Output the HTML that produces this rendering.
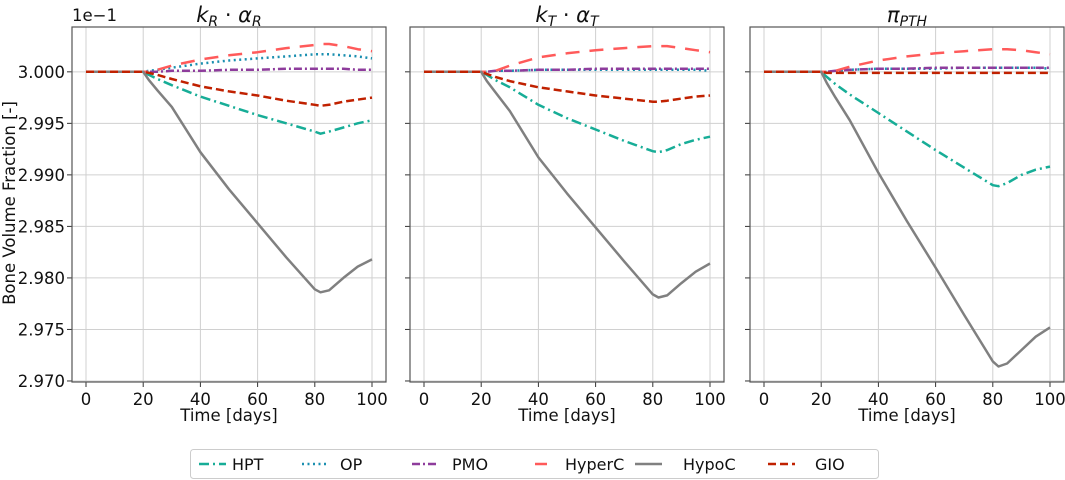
<!DOCTYPE html>
<html><head><meta charset="utf-8">
<style>
html,body{margin:0;padding:0;background:#fff;}
svg{display:block;font-family:"DejaVu Sans","Liberation Sans",sans-serif;}
</style></head>
<body>
<svg id="chart" width="1065" height="480" viewBox="0 0 1065 480" xmlns="http://www.w3.org/2000/svg"></svg>
<script>
const days = [0,20,22,25,30,40,50,60,70,80,82,85,90,95,100];
const yTicks = [3.000,2.995,2.990,2.985,2.980,2.975,2.970];
const xTicks = [0,20,40,60,80,100];
const seriesNames = ["HPT","OP","PMO","HyperC","HypoC","GIO"];
// Panel 1
const p1HPT   = [3,3,2.9997,2.9993,2.9987,2.9976,2.9967,2.9958,2.9950,2.9942,2.9940,2.9942,2.9946,2.9950,2.9953];
const p1OP    = [3,3,3.0001,3.0002,3.0004,3.0008,3.0011,3.0013,3.0015,3.0017,3.0017,3.0017,3.0016,3.0015,3.0013];
const p1PMO   = [3,3,3.0000,3.0000,3.0001,3.0001,3.0002,3.0002,3.0003,3.0003,3.0003,3.0003,3.0003,3.0002,3.0002];
const p1HyperC= [3,3,3.0000,3.0002,3.0006,3.0012,3.0016,3.0019,3.0023,3.0026,3.0027,3.0027,3.0025,3.0022,3.0020];
const p1HypoC = [3,3,2.9992,2.9982,2.9966,2.9922,2.9886,2.9853,2.9820,2.9789,2.9786,2.9788,2.9800,2.9811,2.9818];
const p1GIO   = [3,3,2.9999,2.9997,2.9993,2.9986,2.9981,2.9977,2.9972,2.9968,2.9967,2.9968,2.9971,2.9973,2.9975];
// Panel 2
const p2HPT   = [3,3,2.9997,2.9992,2.9985,2.9968,2.9955,2.9944,2.9933,2.9923,2.9922,2.9924,2.9930,2.9934,2.9937];
const p2OP    = [3,3,3.0000,3.0001,3.0001,3.0002,3.0002,3.0002,3.0002,3.0002,3.0002,3.0002,3.0002,3.0002,3.0001];
const p2PMO   = [3,3,3.0000,3.0001,3.0001,3.0002,3.0002,3.0003,3.0003,3.0003,3.0003,3.0003,3.0003,3.0003,3.0003];
const p2HyperC= [3,3,3.0000,3.0001,3.0006,3.0014,3.0018,3.0021,3.0023,3.0025,3.0025,3.0025,3.0023,3.0021,3.0019];
const p2HypoC = [3,3,2.9991,2.9980,2.9962,2.9917,2.9882,2.9849,2.9816,2.9784,2.9781,2.9783,2.9795,2.9806,2.9814];
const p2GIO   = [3,3,2.9998,2.9995,2.9991,2.9985,2.9981,2.9977,2.9974,2.9971,2.9971,2.9972,2.9974,2.9976,2.9977];
// Panel 3
const p3HPT   = [3,3,2.9995,2.9988,2.9978,2.9960,2.9942,2.9924,2.9907,2.9890,2.9889,2.9892,2.9900,2.9905,2.9908];
const p3OP    = [3,3,3.0000,3.0001,3.0002,3.0003,3.0003,3.0003,3.0004,3.0004,3.0004,3.0004,3.0004,3.0004,3.0003];
const p3PMO   = [3,3,3.0000,3.0001,3.0002,3.0003,3.0003,3.0004,3.0004,3.0004,3.0004,3.0004,3.0004,3.0004,3.0004];
const p3HyperC= [3,3,3.0000,3.0001,3.0005,3.0011,3.0015,3.0018,3.0020,3.0022,3.0022,3.0022,3.0021,3.0019,3.0017];
const p3HypoC = [3,3,2.9989,2.9975,2.9953,2.9902,2.9855,2.9810,2.9764,2.9719,2.9714,2.9717,2.9730,2.9743,2.9752];
const p3GIO   = [3,3,2.9999,2.9999,2.9999,2.9999,2.9999,2.9999,2.9999,2.9999,2.9999,2.9999,2.9999,2.9999,2.9999];

const panels = [
  [p1HPT,p1OP,p1PMO,p1HyperC,p1HypoC,p1GIO],
  [p2HPT,p2OP,p2PMO,p2HyperC,p2HypoC,p2GIO],
  [p3HPT,p3OP,p3PMO,p3HyperC,p3HypoC,p3GIO]
];
const styles = [
  {c:"#17ad97",d:"10 4 2 4",w:2.5},
  {c:"#1a8fb0",d:"2 3.5",w:2.5},
  {c:"#8e3c9c",d:"8 3 2 3",w:2.5},
  {c:"#ff5a5a",d:"14 10",w:2.5},
  {c:"#808080",d:"",w:2.5},
  {c:"#c02100",d:"8 4",w:2.5}
];
const NS="http://www.w3.org/2000/svg";
const svg=document.getElementById('chart');
function mk(tag,attrs,parent){const e=document.createElementNS(NS,tag);for(const k in attrs)e.setAttribute(k,attrs[k]);(parent||svg).appendChild(e);return e;}

const panelLeft=[72,410,750], panelW=314, plotTop=27, plotBottom=382;
const yTop=3.00435, yBot=2.9699;
function yScale(v){return plotTop+(yTop-v)/(yTop-yBot)*(plotBottom-plotTop);}

panels.forEach((series,pi)=>{
  const L=panelLeft[pi];
  const x0=L+14, x1=L+300;
  const xScale=d=>x0+(d/100)*(x1-x0);
  const g=mk('g',{});
  
  
  xTicks.forEach(t=>{
    const l=mk('line',{x1:xScale(t),x2:xScale(t),y1:plotTop,y2:plotBottom,stroke:"#d0d0d0","stroke-width":1},g);
    
    
    const tk=mk('line',{x1:xScale(t),x2:xScale(t),y1:plotBottom,y2:plotBottom+5,stroke:"#333","stroke-width":1},g);
    
    
    const tx=mk('text',{x:xScale(t),y:plotBottom+23,"text-anchor":"middle","font-size":16.5,fill:"#111"},g);
    tx.textContent=t;
    
    
  });
  yTicks.forEach(t=>{
    const y=yScale(t);
    const l=mk('line',{x1:L,x2:L+panelW,y1:y,y2:y,stroke:"#d0d0d0","stroke-width":1},g);
    
    
    const tk=mk('line',{x1:L-5,x2:L,y1:y,y2:y,stroke:"#333","stroke-width":1},g);
    
    
    if(pi===0){
      const tx=mk('text',{x:L-7,y:y+6,"text-anchor":"end","font-size":16.5,fill:"#111"},g);
      tx.textContent=t.toFixed(3);
      
      
    }
  });
  series.forEach((vals,si)=>{
    const s=styles[si];
    const pts=days.map((d,i)=>xScale(d).toFixed(1)+","+yScale(vals[i]).toFixed(1)).join(" ");
    const p=mk('polyline',{points:pts,fill:"none",stroke:s.c,"stroke-width":s.w,"stroke-dasharray":s.d,"stroke-linejoin":"round"},g);
    
    
  });
  const fr=mk('rect',{x:L,y:plotTop,width:panelW,height:plotBottom-plotTop,fill:"none",stroke:"#555","stroke-width":1.2},g);
  
  
  const xl=mk('text',{x:L+panelW/2,y:plotBottom+39,"text-anchor":"middle","font-size":16.5,fill:"#111"},g);
  xl.textContent="Time [days]";
  
  
});

const titleParts=[
  ['k','R',' · ','α','R'],
  ['k','T',' · ','α','T'],
  ['π','PTH','','','']
];
titleParts.forEach((t,i)=>{
  const tx=mk('text',{x:panelLeft[i]+panelW/2,y:22,"text-anchor":"middle","font-size":21,"font-style":"italic",fill:"#111"});
  
  
  const a=mk('tspan',{},tx);a.textContent=t[0];
  const b=mk('tspan',{"font-size":14,dy:4},tx);b.textContent=t[1];
  if(t[2]){
    const c=mk('tspan',{dy:-4,"font-style":"normal"},tx);c.textContent=t[2];
    const d=mk('tspan',{},tx);d.textContent=t[3];
    const e=mk('tspan',{"font-size":14,dy:4},tx);e.textContent=t[4];
  }
});
const off=mk('text',{x:72,y:21,"font-size":16.5,fill:"#111"});
off.textContent="1e−1";


const yl=mk('text',{x:15,y:203,"text-anchor":"middle","font-size":16.5,fill:"#111",transform:"rotate(-90 15 203)"});
yl.textContent="Bone Volume Fraction [-]";



const lg=mk('g',{});


const lr=mk('rect',{x:190.5,y:449.5,width:688,height:29,rx:3,fill:"#fff",stroke:"#ccc","stroke-width":1},lg);


const handleX=[199,302,412,528,635,768];
const textX=[232,340,452,565,683,815];
seriesNames.forEach((n,i)=>{
  const s=styles[i];
  const ent=mk('g',{},lg);
  
  
  mk('line',{x1:handleX[i]+(i===3?7:0),x2:handleX[i]+(i===3?19:27),y1:464,y2:464,stroke:s.c,"stroke-width":2.5,"stroke-dasharray":(i===3?"":s.d)},ent);
  const t=mk('text',{x:textX[i],y:470,"font-size":16,fill:"#111"},ent);
  t.textContent=n;
});
</script>
</body></html>
